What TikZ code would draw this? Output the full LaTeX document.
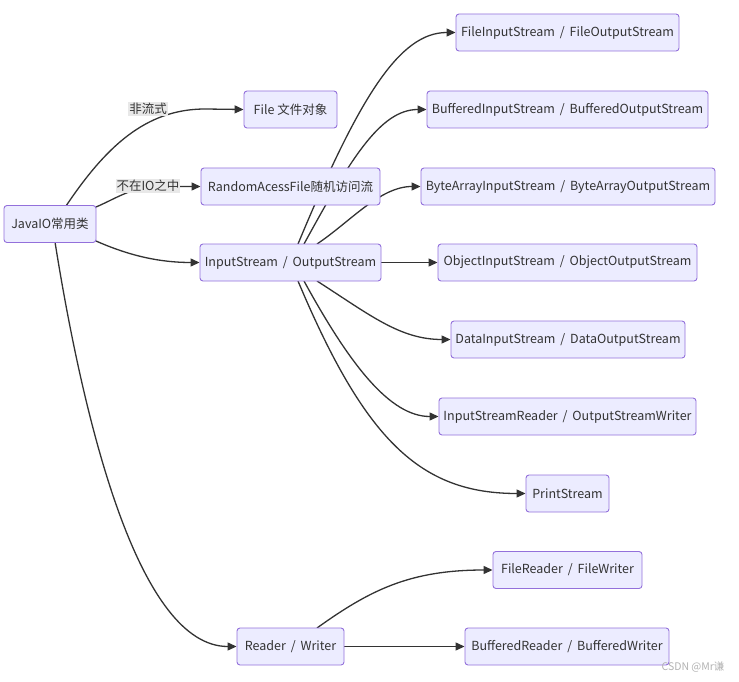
\documentclass[tikz,border=0pt]{standalone}
\usepackage{fontspec}
\setmainfont{Noto Sans CJK SC}
\usetikzlibrary{arrows.meta}
\pgfdeclarelayer{bg}
\pgfsetlayers{bg,main}
\definecolor{nodefill}{HTML}{ECECFF}
\definecolor{nodeborder}{HTML}{9370DB}
\definecolor{txt}{HTML}{333333}
\definecolor{lblbg}{HTML}{E8E8E8}
\tikzset{
  box/.style={draw=nodeborder, fill=nodefill, rounded corners=3pt, line width=0.9pt,
    minimum height=37pt, inner sep=0pt, text=txt, font=\fontsize{12.5}{14}\selectfont},
  conn/.style={draw=txt, line width=1.3pt, -{Triangle[length=9pt,width=8pt]}},
  elabel/.style={fill=lblbg, inner sep=1pt, text=txt, font=\fontsize{12.5}{14}\selectfont},
}
\begin{document}
\begin{tikzpicture}[x=1pt,y=-1pt]
\useasboundingbox (0,0) rectangle (739,682);
% nodes
\node[box, minimum width=92pt] (j) at (50,224) {JavaIO常用类};
\node[box, minimum width=93pt] (file) at (290.5,109.5) {File 文件对象};
\node[box, minimum width=179pt] (ra) at (290.5,186.5) {RandomAcessFile随机访问流};
\node[box, minimum width=181pt] (is) at (290.5,262.5) {InputStream \,/\, OutputStream};
\node[box, minimum width=107pt] (rw) at (290.5,646.5) {Reader \,/\, Writer};
\node[box, minimum width=223pt] (fis) at (567.5,32.5) {FileInputStream \,/\, FileOutputStream};
\node[box, minimum width=281pt] (bis) at (567.5,109.5) {BufferedInputStream \,/\, BufferedOutputStream};
\node[box, minimum width=294pt] (bais) at (568,186.5) {ByteArrayInputStream \,/\, ByteArrayOutputStream};
\node[box, minimum width=259pt] (ois) at (567.5,262.5) {ObjectInputStream \,/\, ObjectOutputStream};
\node[box, minimum width=234pt] (dis) at (568,339.5) {DataInputStream \,/\, DataOutputStream};
\node[box, minimum width=257pt] (isr) at (567.5,416.5) {InputStreamReader \,/\, OutputStreamWriter};
\node[box, minimum width=83pt] (ps) at (567.5,493.5) {PrintStream};
\node[box, minimum width=149pt] (fr) at (567.5,570) {FileReader \,/\, FileWriter};
\node[box, minimum width=204pt] (br) at (567,646.5) {BufferedReader \,/\, BufferedWriter};
% coordinates for curve ends
\coordinate (jtop1) at (66,206);
\coordinate (jtop2) at (96,207);
\coordinate (jbot1) at (96,241);
\coordinate (jbot2) at (55,242);
\begin{pgfonlayer}{bg}
% edges from JavaIO
\draw[conn] (jtop1) .. controls (105,148) and (145,109) .. (205,109) -- (file.west);
\draw[conn] (jtop2) .. controls (115,199) and (130,188) .. (155,186.5) -- (ra.west);
\draw[conn] (jbot1) .. controls (130,256) and (160,262.5) .. (is.west);
\draw[conn] (jbot2) .. controls (85,430) and (140,646.5) .. (rw.west);
% edges from InputStream
\draw[conn] (298,244) .. controls (360,95) and (400,32.5) .. (fis.west);
\draw[conn] (304,244) .. controls (350,160) and (380,109.5) .. (bis.west);
\draw[conn] (317,244) .. controls (350,222) and (380,186.5) .. (bais.west);
\draw[conn] (is.east) -- (ois.west);
\draw[conn] (317,281) .. controls (370,315) and (400,339.5) .. (dis.west);
\draw[conn] (304,281) .. controls (350,365) and (390,416.5) .. (isr.west);
\draw[conn] (298,281) .. controls (365,440) and (420,493.5) .. (ps.west);
% edges from Reader/Writer
\draw[conn] (317,628) .. controls (370,590) and (410,570) .. (fr.west);
\draw[conn] (rw.east) -- (br.west);
\end{pgfonlayer}
\node[elabel] (l1) at (148,109) {非流式};
\node[elabel] (l2) at (148,186) {不在IO之中};
% watermark
\node[text=black!30, font=\fontsize{10.5}{12}\selectfont, anchor=east] (wm) at (728,667) {CSDN @Mr谦};
\end{tikzpicture}
\end{document}
